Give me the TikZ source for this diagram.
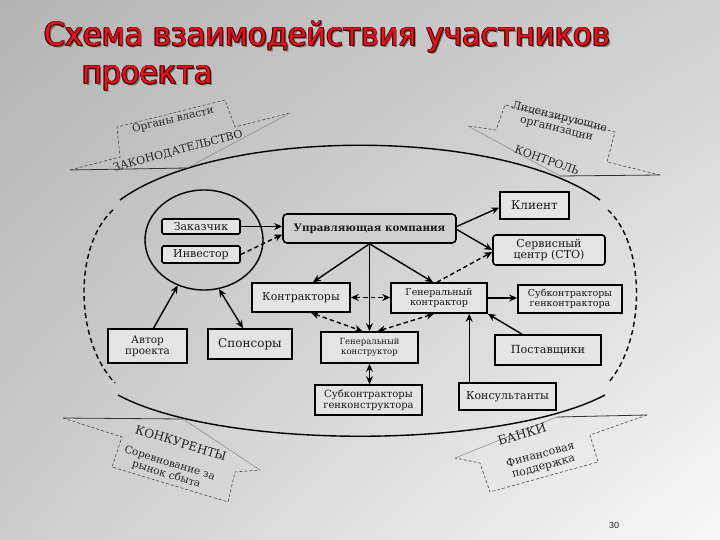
\documentclass[tikz,border=0pt]{standalone}
\usepackage{fontspec}
\setmainfont{DejaVu Serif}
\newfontfamily\titlefont{DejaVu Sans}
\newfontfamily\numfont{Liberation Sans}
\usetikzlibrary{arrows.meta,calc,shapes.geometric,shadings}
\definecolor{bgUL}{RGB}{180,180,180}
\definecolor{bgUR}{RGB}{208,208,208}
\definecolor{bgLL}{RGB}{204,204,204}
\definecolor{bgLR}{RGB}{248,248,248}
\definecolor{boxfill}{RGB}{228,228,228}
\definecolor{ukfill}{RGB}{208,208,208}
\definecolor{titlered}{RGB}{226,20,30}
\definecolor{titleedge}{RGB}{70,0,0}
\definecolor{callline}{RGB}{70,70,70}
\tikzset{
  box/.style={draw=black, line width=1.6pt, fill=boxfill, inner sep=1pt, align=center,
    font=\fontsize{11}{12}\selectfont, text=black!90},
  arr/.style={line width=1.4pt, -{Stealth[length=8pt,width=7pt]}},
  darr/.style={line width=1.4pt, {Stealth[length=8pt,width=7pt]}-{Stealth[length=8pt,width=7pt]}},
  dsh/.style={dash pattern=on 4.5pt off 3pt},
  callout/.style={draw=callline, line width=0.6pt, dash pattern=on 3pt off 2pt},
  callbase/.style={draw=black!80, line width=0.8pt},
  callback/.style={draw=black!45, line width=0.6pt},
  calltext/.style={font=\fontsize{11}{12}\selectfont, text=black!85, align=center, inner sep=0pt},
  bigdash/.style={line width=1.4pt, dash pattern=on 5pt off 3.5pt},
  bigsolid/.style={line width=1.4pt},
}
\newcommand{\ttl}[3]{%
  \node[anchor=base west, inner sep=0pt, text=black!55] at ($(#1,#2)+(1.8,1.8)$) {\titlefont\fontsize{32}{32}\selectfont #3};
  \foreach \dx/\dy in {0.8/0,-0.8/0,0/0.8,0/-0.8,0.6/0.6,-0.6/0.6,0.6/-0.6,-0.6/-0.6}{
    \node[anchor=base west, inner sep=0pt, text=titleedge] at ($(#1,#2)+(\dx,\dy)$) {\titlefont\fontsize{32}{32}\selectfont #3};}
  \node[anchor=base west, inner sep=0pt, text=titlered] at (#1,#2) {\titlefont\fontsize{32}{32}\selectfont #3};
}
\begin{document}
\begin{tikzpicture}[x=1pt,y=-1pt]
\useasboundingbox (0,0) rectangle (720,540);
\shade[upper left=bgUL, upper right=bgUR, lower left=bgLL, lower right=bgLR] (0,0) rectangle (720,540);

% title
\ttl{44}{46}{\resizebox{566pt}{\height}{Схема взаимодействия участников}}
\ttl{82}{84}{\resizebox{131pt}{\height}{проекта}}

% big outline
\draw[bigsolid] (120,200) .. controls (220,127) and (500,127) .. (600,200);
\draw[bigsolid] (118,395) .. controls (220,450) and (500,450) .. (605,395);
\draw[bigdash] (113,210) .. controls (74,245) and (74,340) .. (115,383);
\draw[bigdash] (608,210) .. controls (646,245) and (646,340) .. (608,383);

% callouts
\draw[callout] (70,170) -- (120,157) -- (117,127) -- (225,100) -- (235,127) -- (290,113);
\draw[callback] (290,113) -- (187,168);
\draw[callbase] (187,168) -- (70,170);
\node[calltext, rotate=13] (tl1) at (173,120) {\fontsize{10.5}{12}\selectfont Органы власти};
\node[calltext, rotate=15] (tl2) at (178,151) {ЗАКОНОДАТЕЛЬСТВО};

\draw[callout] (660,175) -- (607,162) -- (615,132) -- (505,105) -- (496,130) -- (468,126);
\draw[callback] (468,126) -- (560,176);
\draw[callbase] (560,176) -- (660,175);
\node[calltext, rotate=-14] (tr1) at (558,123) {Лицензирующие\\организации};
\node[calltext, rotate=-20] (tr2) at (547,160) {КОНТРОЛЬ};

\draw[callout] (63,418) -- (122,437) -- (112,467) -- (228,502) -- (235,472) -- (260,470);
\draw[callback] (260,470) -- (183,419);
\draw[callbase] (183,419) -- (63,418);
\node[calltext, rotate=-17, font=\fontsize{12}{13}\selectfont] (bl1) at (181,443) {КОНКУРЕНТЫ};
\node[calltext, rotate=-17, font=\fontsize{10.5}{11.5}\selectfont] (bl2) at (168,469) {Соревнование за\\рынок сбыта};

\draw[callout] (647,415) -- (590,435) -- (598,462) -- (490,492) -- (480,463) -- (455,458);
\draw[callback] (455,458) -- (557,417);
\draw[callbase] (557,417) -- (647,415);
\node[calltext, rotate=17, font=\fontsize{12.5}{13}\selectfont] (br1) at (522,434) {БАНКИ};
\node[calltext, rotate=15] (br2) at (542,461) {Финансовая\\поддержка};

% nodes
\node[draw=black, line width=1.4pt, ellipse, minimum width=118pt, minimum height=100pt, inner sep=0pt] (cust) at (204,240) {};
\node[box, rounded corners=1.5pt, minimum width=78pt, minimum height=15pt] (zak) at (201,226.5) {Заказчик};
\node[box, rounded corners=1.5pt, minimum width=78pt, minimum height=17pt] (inv) at (201,254.5) {Инвестор};
\node[box, rounded corners=4pt, fill=ukfill, minimum width=173pt, minimum height=29pt, font=\bfseries\fontsize{10.3}{12}\selectfont] (uk) at (369.5,228.5) {Управляющая компания};
\node[box, minimum width=69pt, minimum height=27pt, font=\fontsize{12}{13}\selectfont] (kli) at (534.5,205.5) {Клиент};
\node[box, rounded corners=3pt, minimum width=112pt, minimum height=30pt, font=\fontsize{11}{11}\selectfont] (sto) at (549,250) {Сервисный\\центр (СТО)};
\node[box, minimum width=104pt, minimum height=28pt, font=\fontsize{9.5}{10}\selectfont] (subk) at (570,299) {Субконтракторы\\генконтрактора};
\node[box, minimum width=106pt, minimum height=30pt, font=\fontsize{11.2}{13}\selectfont] (post) at (548,350) {Поставщики};
\node[box, minimum width=97pt, minimum height=27pt] (kons) at (507.5,396.5) {Консультанты};
\node[box, minimum width=96pt, minimum height=30pt, font=\fontsize{9.5}{10}\selectfont] (genk) at (439,298) {Генеральный\\контрактор};
\node[box, minimum width=98pt, minimum height=29pt] (kontr) at (301,297.5) {Контракторы};
\node[box, minimum width=97pt, minimum height=31pt, font=\fontsize{8.5}{9.5}\selectfont] (genkon) at (369.5,347.5) {Генеральный\\конструктор};
\node[box, minimum width=107pt, minimum height=30pt, font=\fontsize{10}{11}\selectfont] (subkon) at (368.5,400) {Субконтракторы\\генконструктора};
\node[box, minimum width=79pt, minimum height=34pt, font=\fontsize{10.5}{11}\selectfont] (avt) at (147.5,346) {Автор\\проекта};
\node[box, minimum width=84pt, minimum height=30pt, font=\fontsize{12}{13}\selectfont] (spon) at (250,344) {Спонсоры};

% connectors
\draw[arr] (zak.east) -- (zak.east -| uk.west);
\draw[arr, dsh] (inv.east) -- ($(uk.west)+(0,6)$);
\draw[arr] ($(uk.east)+(0,-2)$) -- ($(kli.west)+(0,2)$);
\draw[arr] ($(uk.east)+(0,1)$) -- ($(sto.west)+(0,0)$);
\draw[arr, dsh] ($(genk.north)+(-2,0)$) -- ($(sto.west)+(0,2)$);
\draw[arr] (uk.south) -- ($(kontr.north)+(12,0)$);
\draw[arr] (uk.south) -- ($(genk.north)+(-6,0)$);
\draw[arr] (uk.south) -- (uk.south |- genkon.north);
\draw[darr, dsh] (kontr.east) -- (kontr.east -| genk.west);
\draw[darr, dsh] ($(kontr.south)+(10,0)$) -- ($(genkon.north)+(-7,0)$);
\draw[darr, dsh] ($(genk.south)+(-5,0)$) -- ($(genkon.north)+(8,0)$);
\draw[darr, line width=1.9pt] (genkon.south) -- (genkon.south |- subkon.north);
\draw[arr] (genk.east) -- (genk.east -| subk.west);
\draw[arr] ($(post.north)+(-26,0)$) -- (genk.south east);
\draw[arr] ($(kons.north west)+(11,0)$) -- ($(genk.south west)+(79,0)$);
\draw[arr] ($(avt.north)+(6,0)$) -- (cust.240);
\draw[darr] (cust.287) -- ($(spon.north)+(-7,0)$);

\node[font=\numfont\fontsize{9}{10}\selectfont, text=black!85] (pg) at (614,525) {30};
\end{tikzpicture}
\end{document}
